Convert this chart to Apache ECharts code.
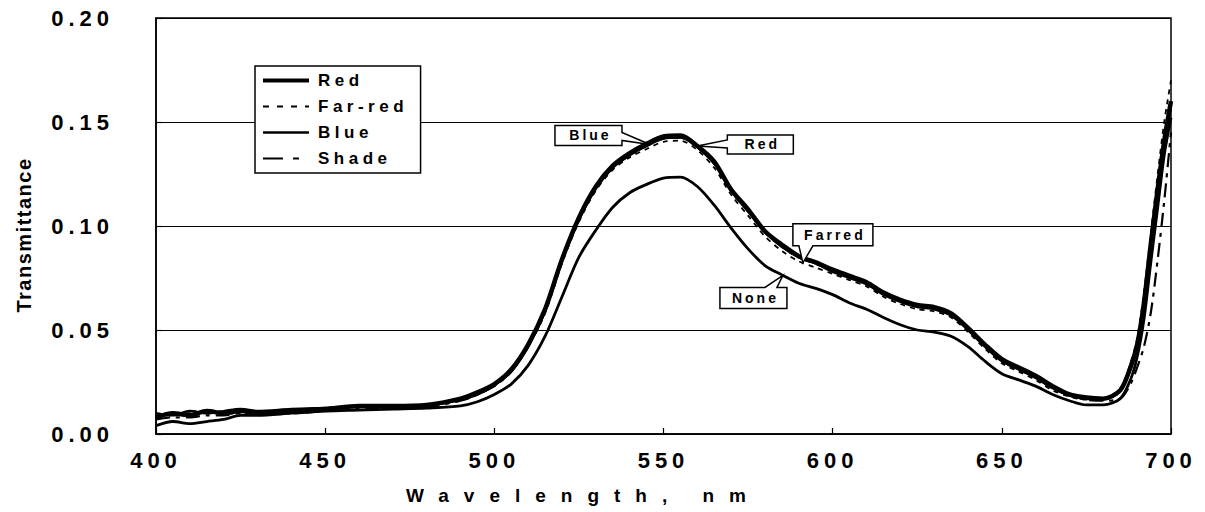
<!DOCTYPE html>
<html>
<head>
<meta charset="utf-8">
<script src="https://cdn.jsdelivr.net/npm/echarts@6/dist/echarts.min.js"></script>
<style>
  html, body { margin: 0; padding: 0; background: #fff; }
  #chart { width: 1205px; height: 512px; }
  /* tracked lettering, keyed on each text group's font size */
  #chart text[style*="22px"] { letter-spacing: 5px; }
  #chart text[style*="19px"] { letter-spacing: 15px; }
  #chart text[style*="20px"] { letter-spacing: 1.5px; }
  #chart text[style*="17px"] { letter-spacing: 4.5px; }
  #chart text[style*="14px"] { letter-spacing: 3px; }
</style>
</head>
<body>
<div id="chart"></div>
<script>
// Wavelengths (nm) shared by every spectrum
const wavelength = [400,405,410,415,420,425,430,440,450,460,470,480,490,495,500,505,510,515,520,525,530,535,540,545,550,555,560,565,570,575,580,585,590,595,600,605,610,615,620,625,630,635,640,645,650,655,660,665,670,675,680,685,688,690,692,694,696,698,700];

// Leaf transmittance under each light treatment
const red    = [0.008,0.010,0.009,0.011,0.010,0.011,0.010,0.011,0.012,0.0135,0.0135,0.014,0.017,0.020,0.024,0.031,0.043,0.060,0.084,0.104,0.119,0.129,0.135,0.1395,0.1430,0.1435,0.1385,0.131,0.1175,0.108,0.0975,0.091,0.0855,0.0825,0.079,0.076,0.073,0.068,0.0645,0.062,0.061,0.058,0.051,0.043,0.036,0.032,0.028,0.023,0.019,0.0175,0.017,0.021,0.032,0.043,0.063,0.091,0.117,0.141,0.160];
const farRed = [0.009,0.009,0.010,0.010,0.011,0.010,0.011,0.011,0.012,0.013,0.013,0.014,0.016,0.019,0.023,0.030,0.042,0.058,0.082,0.102,0.117,0.127,0.133,0.137,0.1405,0.1410,0.1365,0.128,0.115,0.105,0.095,0.088,0.083,0.080,0.077,0.074,0.071,0.066,0.0625,0.060,0.059,0.056,0.049,0.041,0.034,0.030,0.026,0.021,0.018,0.0165,0.017,0.022,0.034,0.046,0.068,0.096,0.124,0.150,0.170];
const blue   = [0.010,0.009,0.011,0.010,0.011,0.012,0.011,0.012,0.0125,0.013,0.013,0.0135,0.0165,0.019,0.0235,0.030,0.042,0.059,0.083,0.103,0.118,0.128,0.134,0.1385,0.1420,0.1425,0.1380,0.130,0.117,0.107,0.097,0.090,0.085,0.082,0.078,0.075,0.072,0.067,0.0635,0.061,0.060,0.057,0.050,0.042,0.035,0.031,0.027,0.022,0.0185,0.017,0.0168,0.021,0.031,0.042,0.061,0.089,0.115,0.139,0.158];
const shade  = [0.007,0.008,0.008,0.009,0.009,0.010,0.010,0.010,0.011,0.012,0.0125,0.013,0.016,0.019,0.023,0.030,0.042,0.059,0.083,0.103,0.118,0.128,0.134,0.1385,0.1420,0.1425,0.1378,0.1298,0.117,0.107,0.097,0.090,0.0848,0.0818,0.0785,0.0755,0.0725,0.0675,0.064,0.0615,0.0605,0.0575,0.0505,0.0425,0.0355,0.0315,0.0275,0.0225,0.0185,0.0165,0.016,0.017,0.024,0.032,0.042,0.058,0.083,0.112,0.145];
const none   = [0.004,0.006,0.005,0.006,0.007,0.009,0.009,0.010,0.011,0.0115,0.012,0.0125,0.0135,0.0155,0.019,0.024,0.033,0.047,0.066,0.085,0.098,0.109,0.116,0.120,0.123,0.1235,0.119,0.110,0.099,0.089,0.081,0.0765,0.0725,0.070,0.067,0.063,0.060,0.056,0.0525,0.050,0.049,0.047,0.042,0.035,0.029,0.026,0.023,0.019,0.016,0.014,0.014,0.017,0.026,0.037,0.055,0.082,0.108,0.134,0.152];

// Axis ticks
const xTicks = [400, 450, 500, 550, 600, 650, 700];
const yTicks = [0.00, 0.05, 0.10, 0.15, 0.20];

const FONT = '"Liberation Sans", Arial, sans-serif';

// Line styles per treatment, used by both the curves and the key
const styles = {
  'Red':     { width: 4.5 },
  'Far-red': { width: 1.8, type: [5, 5] },
  'Blue':    { width: 2.5 },
  'Shade':   { width: 2.2, type: [14, 6, 4, 6] },
  'None':    { width: 2.8 }
};

function pairs(values) {
  return wavelength.map((w, i) => [w, values[i]]);
}

// value of a spectrum at an arbitrary wavelength
function valueAt(values, w) {
  for (let i = 0; i < wavelength.length - 1; i++) {
    if (w >= wavelength[i] && w <= wavelength[i + 1]) {
      const t = (w - wavelength[i]) / (wavelength[i + 1] - wavelength[i]);
      return values[i] + t * (values[i + 1] - values[i]);
    }
  }
  return values[values.length - 1];
}

function lineSeries(name, values) {
  return {
    name, type: 'line', data: pairs(values), symbol: 'none', smooth: 0.3,
    lineStyle: Object.assign({ color: '#000' }, styles[name]),
    itemStyle: { color: '#000' },
    emphasis: { disabled: true }, silent: true
  };
}

const legendNames = ['Red', 'Far-red', 'Blue', 'Shade'];
const legendLine = {
  'Red':     { width: 4, type: 'solid' },
  'Far-red': { width: 2, type: [6, 8] },
  'Blue':    { width: 2.5, type: 'solid' },
  'Shade':   { width: 2.2, type: [20, 10, 6, 40] }
};

const chart = echarts.init(document.getElementById('chart'), null, { renderer: 'svg' });

chart.setOption({
  animation: false,
  backgroundColor: '#fff',
  grid: { left: 156, right: 34, top: 18, bottom: 78, show: true, borderColor: '#000', borderWidth: 1.5, backgroundColor: 'transparent' },
  xAxis: {
    type: 'value', min: xTicks[0], max: xTicks[xTicks.length - 1], interval: 50,
    name: 'Wavelength, nm', nameLocation: 'middle', nameGap: 52,
    nameTextStyle: { fontFamily: FONT, fontSize: 19, fontWeight: 'bold', color: '#000', padding: [0, 160, 0, 0] },
    axisLine: { show: true, lineStyle: { color: '#000', width: 1.5 } },
    axisTick: { show: true, inside: true, length: 6, lineStyle: { color: '#000', width: 1.2 } },
    axisLabel: { fontFamily: FONT, fontSize: 22, fontWeight: 'bold', color: '#000', margin: 15 },
    splitLine: { show: false }
  },
  yAxis: {
    type: 'value', min: yTicks[0], max: yTicks[yTicks.length - 1], interval: 0.05,
    name: 'Transmittance', nameLocation: 'middle', nameGap: 122,
    nameTextStyle: { fontFamily: FONT, fontSize: 20, fontWeight: 'bold', color: '#000', padding: [0, 18, 0, 0] },
    axisLine: { show: true, lineStyle: { color: '#000', width: 1.5 } },
    axisTick: { show: true, inside: true, length: 6, lineStyle: { color: '#000', width: 1.2 } },
    axisLabel: { fontFamily: FONT, fontSize: 22, fontWeight: 'bold', color: '#000', margin: 42,
                 formatter: v => v.toFixed(2) },
    splitLine: { show: true, lineStyle: { color: '#000', width: 1 } }
  },
  legend: {
    data: legendNames.map(n => ({ name: n, lineStyle: Object.assign({ color: '#000' }, legendLine[n]) })),
    orient: 'vertical', left: 255, top: 66,
    itemWidth: 46, itemHeight: 14, itemGap: 9,
    padding: [6, 44, 6, 6],
    backgroundColor: '#fff', borderColor: '#000', borderWidth: 1.5,
    itemStyle: { opacity: 0, borderWidth: 0 },
    textStyle: { fontFamily: FONT, fontSize: 17, fontWeight: 'bold', color: '#000', padding: [0, 0, 0, 4] },
    selectedMode: false
  },
  series: [
    lineSeries('Red', red),
    lineSeries('Far-red', farRed),
    lineSeries('Blue', blue),
    lineSeries('Shade', shade),
    lineSeries('None', none)
  ]
});

// Callout boxes naming the curves
const callouts = [
  { text: 'Blue',   values: blue,   w: 546,   dx: -95, dy: -19, bw: 67, bh: 20, side: 'right',  b0: 7,  b1: 15 },
  { text: 'Red',    values: red,    w: 560,   dx: 30,  dy: -11, bw: 66, bh: 19, side: 'left',   b0: 5,  b1: 13 },
  { text: 'Farred', values: farRed, w: 591.2, dx: -10, dy: -39, bw: 80, bh: 22, side: 'bottom', b0: 6,  b1: 20 },
  { text: 'None',   values: none,   w: 585.3, dx: -63, dy: 12,  bw: 67, bh: 21, side: 'top',    b0: 45, b1: 57 }
];

function calloutGraphic(c) {
  const p = chart.convertToPixel({ gridIndex: 0 }, [c.w, valueAt(c.values, c.w)]);
  const x = p[0] + c.dx, y = p[1] + c.dy, w = c.bw, h = c.bh;
  let pts;
  if (c.side === 'right') {
    pts = [[x, y], [x + w, y], [x + w, y + c.b0], p, [x + w, y + c.b1], [x + w, y + h], [x, y + h]];
  } else if (c.side === 'left') {
    pts = [[x, y], [x + w, y], [x + w, y + h], [x, y + h], [x, y + c.b1], p, [x, y + c.b0]];
  } else if (c.side === 'bottom') {
    pts = [[x, y], [x + w, y], [x + w, y + h], [x + c.b1, y + h], p, [x + c.b0, y + h], [x, y + h]];
  } else {
    pts = [[x, y], [x + c.b0, y], p, [x + c.b1, y], [x + w, y], [x + w, y + h], [x, y + h]];
  }
  return [
    { type: 'polygon', z: 100, shape: { points: pts },
      style: { fill: '#fff', stroke: '#000', lineWidth: 1.5 } },
    { type: 'text', z: 101, x: x + w / 2 + 2, y: y + h / 2,
      style: { text: c.text, fill: '#000', font: 'bold 14px ' + FONT, align: 'center', verticalAlign: 'middle' } }
  ];
}

chart.setOption({ graphic: callouts.flatMap(calloutGraphic) });
</script>
</body>
</html>
